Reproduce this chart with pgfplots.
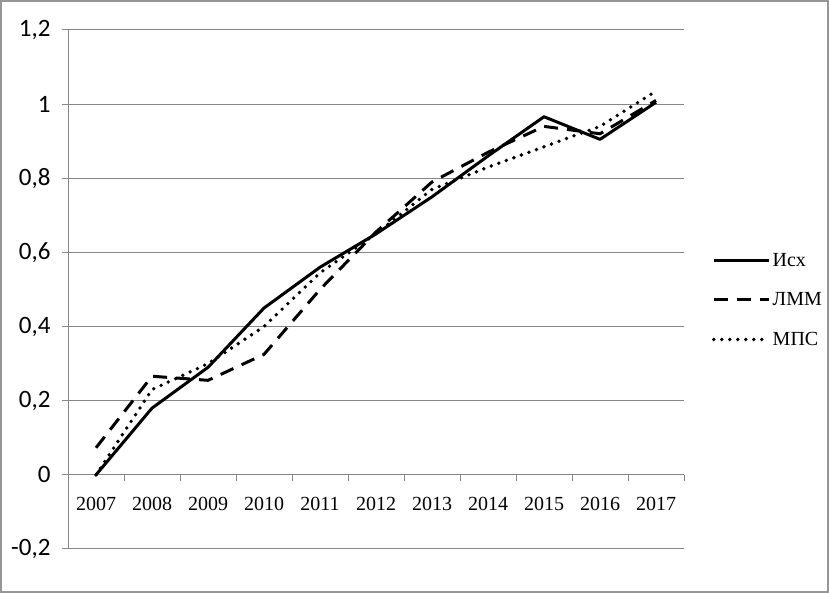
\documentclass[border=0pt]{standalone}
\usepackage{fontspec}
\setmainfont{Liberation Serif}
\newfontfamily\carlito{Carlito}
\usepackage{pgfplots}
\pgfplotsset{compat=1.18}
\definecolor{gridgray}{RGB}{134,134,134}
\definecolor{framegray}{RGB}{150,150,150}
\begin{document}
\begin{tikzpicture}[x=1bp,y=1bp]
\path (0,0) rectangle (829,593);
\draw[framegray, line width=2bp] (1,1) rectangle (828,592);
\begin{axis}[
  at={(68bp,44bp)}, anchor=south west,
  scale only axis, width=616bp, height=519bp,
  xmin=-0.5, xmax=10.5, ymin=-0.2, ymax=1.2,
  axis x line*=middle, axis y line*=left,
  axis line style={-, gridgray, line width=1bp},
  xtick={0,1,2,3,4,5,6,7,8,9,10},
  xticklabels={2007,2008,2009,2010,2011,2012,2013,2014,2015,2016,2017},
  minor xtick={-0.5,0.5,1.5,2.5,3.5,4.5,5.5,6.5,7.5,8.5,9.5,10.5},
  major x tick style={draw=none},
  minor x tick style={gridgray, line width=1bp},
  y tick style={gridgray, line width=1bp},
  tick align=outside,
  major tick length=6bp, minor tick length=6bp,
  ytick={-0.2,0,0.2,0.4,0.6,0.8,1,1.2},
  /pgf/number format/assume math mode=true,
  yticklabel={\carlito\pgfmathprintnumber[use comma, assume math mode=true]{\tick}},
  yticklabel style={font=\fontsize{25bp}{28bp}\carlito, xshift=-8bp},
  xticklabel style={font=\fontsize{20bp}{24bp}\selectfont, yshift=-13bp},
  ymajorgrids, grid style={gridgray, line width=1bp},
  clip=false,
  legend style={at={(1.045,0.48)}, anchor=west, draw=none, fill=none,
    font=\fontsize{20bp}{24bp}\selectfont, row sep=21bp, inner sep=0pt,
    nodes={inner sep=2bp}},
  legend cell align=left,
  legend image code/.code={\draw[#1] (0bp,0bp) -- (55bp,0bp);},
]
\addplot[black, line width=3bp, line join=round] coordinates {
(0,0) (1,0.18) (2,0.29) (3,0.45) (4,0.56) (5,0.65) (6,0.75) (7,0.86) (8,0.966) (9,0.905) (10,1.005)};
\addlegendentry{Исх}
\addplot[black, line width=3bp, dash pattern=on 14bp off 9bp] coordinates {
(0,0.073) (1,0.266) (2,0.255) (3,0.325) (4,0.50) (5,0.655) (6,0.79) (7,0.87) (8,0.94) (9,0.92) (10,1.01)};
\addlegendentry{ЛММ}
\addplot[black, line width=3.8bp, line cap=round, dash pattern=on 0bp off 8bp] coordinates {
(0,0.0) (1,0.23) (2,0.30) (3,0.40) (4,0.545) (5,0.65) (6,0.77) (7,0.83) (8,0.885) (9,0.94) (10,1.035)};
\addlegendentry{МПС}
\end{axis}
\end{tikzpicture}
\end{document}
